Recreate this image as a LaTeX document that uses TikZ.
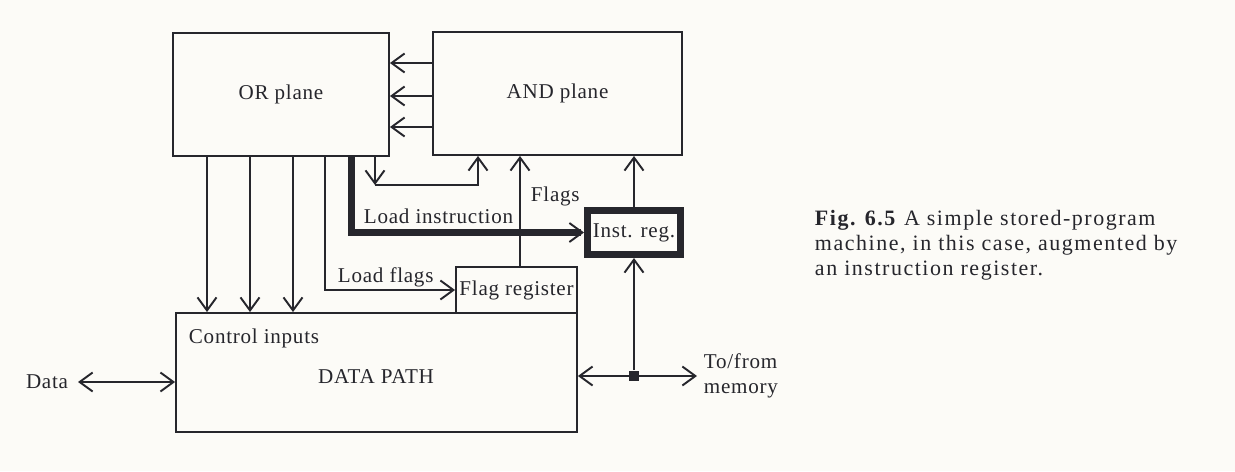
\documentclass[tikz,border=0pt]{standalone}
\usepackage{fontspec}
\setmainfont{Liberation Serif}
\newfontfamily\figfont[LetterSpace=3.5]{Liberation Serif}
\newfontfamily\capfont[LetterSpace=7]{Liberation Serif}
\usetikzlibrary{arrows.meta}
\definecolor{inkgray}{RGB}{38, 38, 44}
\definecolor{paper}{RGB}{252, 251, 247}

\begin{document}
\begin{tikzpicture}[x=0.02cm, y=-0.02cm, line width=1.1pt, draw=inkgray, text=inkgray,
    >={Straight Barb[length=2.6mm, width=3.8mm, line width=1.1pt]},
    font=\figfont\fontsize{12}{14}\selectfont,
    blockbox/.style={rectangle, draw, inner sep=0pt},
    lbl/.style={anchor=base west, inner sep=0pt}]
  \useasboundingbox[fill=paper] (0,0) rectangle (1235,471);

  % blocks
  \node[blockbox, minimum width=4.32cm, minimum height=2.46cm] (orp) at (281,94.5) {OR plane};
  \node[blockbox, minimum width=4.98cm, minimum height=2.46cm] (andp) at (557.5,93.5) {AND plane};
  \node[blockbox, minimum width=8.02cm, minimum height=2.38cm] (dp) at (376.5,372.5) {};
  \node (dptxt) at (376,377) {DATA PATH};
  \node[lbl] (ctrl) at (188,343) {Control inputs};
  \node[blockbox, minimum width=2.42cm, minimum height=0.92cm] (flagreg) at (516.5,290) {Flag register};
  \node[blockbox, line width=0.14cm, minimum width=1.86cm, minimum height=0.88cm] (instreg) at (634,232.5) {Inst. reg.};
  \node[rectangle, fill=inkgray, inner sep=0pt, minimum size=0.2cm] (jn) at (634,376) {};

  % AND plane to OR plane
  \foreach \y in {63,96,127}
    \draw[->] (andp.west |- 0,\y) -- (orp.east |- 0,\y);
  % control inputs
  \foreach \x in {207,250,293}
    \draw[->] (orp.south -| \x,0) -- (dp.north -| \x,0);

  % feedback
  \coordinate (fbk) at (375,185);
  \draw[->] (orp.south -| fbk) -- (fbk);
  \draw[->] (fbk) -| (andp.south -| 478,0);

  % load flags / load instruction
  \draw[->] (orp.south -| 325,0) |- (flagreg.west);
  \node[lbl] (ldflags) at (337,282) {Load flags};
  \draw[->, line width=0.14cm] (orp.south -| 351,0) |- (instreg.west);
  \node[lbl] (ldinstr) at (363,223) {Load instruction};

  % flags and instruction into AND plane
  \draw[->] (flagreg.north -| 520,0) -- (andp.south -| 520,0);
  \node[lbl] (flagslbl) at (530,201) {Flags};
  \draw[->] (instreg.north) -- (andp.south -| instreg.north);

  % memory bus
  \coordinate (mem) at (697,376);
  \draw[<->] (dp.east |- jn) -- (mem);
  \draw[->] (jn) -- (instreg.south);
  \node[anchor=west, align=left, inner sep=0pt] (memlbl) at (703,376) {To/from\\memory};

  % data
  \coordinate (dataend) at (78,382);
  \draw[<->] (dataend) -- (dp.west |- dataend);
  \node[anchor=base east, inner sep=0pt] (datalbl) at (69,388) {Data};

  % caption
  \node[anchor=north west, align=left, inner sep=0pt, font=\capfont\fontsize{12.5}{14.2}\selectfont] (caption) at (814,209)
    {\textbf{Fig. 6.5} A simple stored-program\\machine, in this case, augmented by\\an instruction register.};
\end{tikzpicture}
\end{document}
